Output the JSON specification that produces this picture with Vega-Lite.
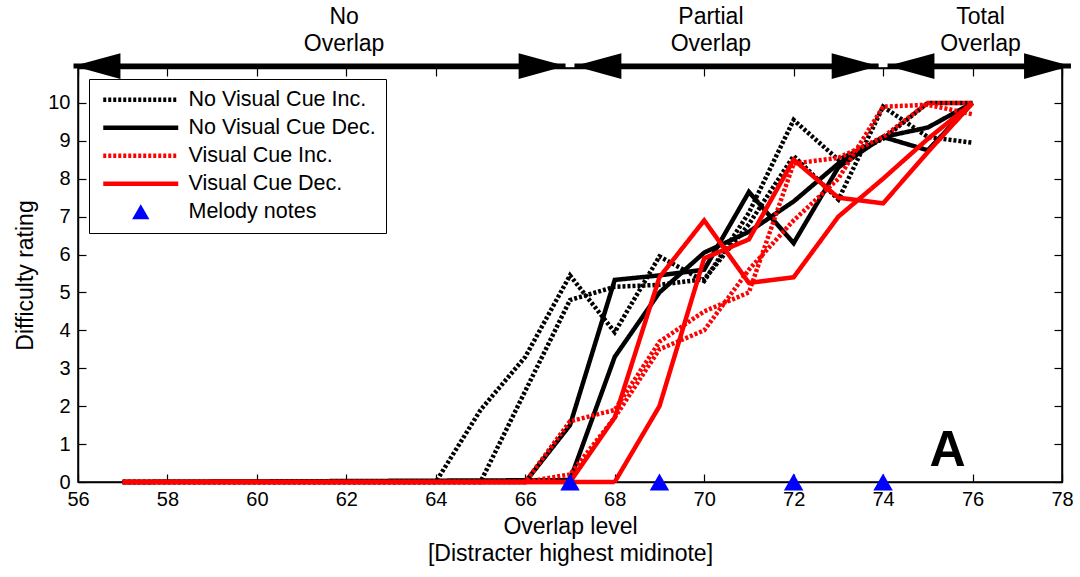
{
  "$schema": "https://vega.github.io/schema/vega-lite/v6.json",
  "width": 984,
  "height": 414,
  "autosize": "none",
  "padding": {"left": 78, "top": 68, "right": 18, "bottom": 95},
  "background": "white",
  "config": {
    "font": "Liberation Sans",
    "view": {"stroke": "black", "strokeWidth": 1.5},
    "axis": {"grid": false, "domainColor": "black", "tickColor": "black", "labelColor": "black", "titleColor": "black", "domainWidth": 1.5, "tickWidth": 1.2}
  },
  "datasets": {
    "lines": [
      {"s": "No Visual Cue Inc.", "r": "a", "x": 57, "y": 0},
      {"s": "No Visual Cue Inc.", "r": "a", "x": 64, "y": 0},
      {"s": "No Visual Cue Inc.", "r": "a", "x": 65, "y": 1.9},
      {"s": "No Visual Cue Inc.", "r": "a", "x": 66, "y": 3.3},
      {"s": "No Visual Cue Inc.", "r": "a", "x": 67, "y": 5.45},
      {"s": "No Visual Cue Inc.", "r": "a", "x": 68, "y": 3.95},
      {"s": "No Visual Cue Inc.", "r": "a", "x": 69, "y": 5.95},
      {"s": "No Visual Cue Inc.", "r": "a", "x": 70, "y": 5.3},
      {"s": "No Visual Cue Inc.", "r": "a", "x": 71, "y": 7.1},
      {"s": "No Visual Cue Inc.", "r": "a", "x": 72, "y": 9.55},
      {"s": "No Visual Cue Inc.", "r": "a", "x": 73, "y": 8.5},
      {"s": "No Visual Cue Inc.", "r": "a", "x": 74, "y": 9.05},
      {"s": "No Visual Cue Inc.", "r": "a", "x": 75, "y": 10},
      {"s": "No Visual Cue Inc.", "r": "a", "x": 76, "y": 10},
      {"s": "No Visual Cue Inc.", "r": "b", "x": 57, "y": 0},
      {"s": "No Visual Cue Inc.", "r": "b", "x": 65, "y": 0},
      {"s": "No Visual Cue Inc.", "r": "b", "x": 66, "y": 2.4},
      {"s": "No Visual Cue Inc.", "r": "b", "x": 67, "y": 4.8},
      {"s": "No Visual Cue Inc.", "r": "b", "x": 68, "y": 5.15},
      {"s": "No Visual Cue Inc.", "r": "b", "x": 69, "y": 5.2},
      {"s": "No Visual Cue Inc.", "r": "b", "x": 70, "y": 5.35},
      {"s": "No Visual Cue Inc.", "r": "b", "x": 71, "y": 6.8},
      {"s": "No Visual Cue Inc.", "r": "b", "x": 72, "y": 8.6},
      {"s": "No Visual Cue Inc.", "r": "b", "x": 73, "y": 7.45},
      {"s": "No Visual Cue Inc.", "r": "b", "x": 74, "y": 9.9},
      {"s": "No Visual Cue Inc.", "r": "b", "x": 75, "y": 9.1},
      {"s": "No Visual Cue Inc.", "r": "b", "x": 76, "y": 8.95},
      {"s": "No Visual Cue Dec.", "r": "a", "x": 57, "y": 0},
      {"s": "No Visual Cue Dec.", "r": "a", "x": 66, "y": 0},
      {"s": "No Visual Cue Dec.", "r": "a", "x": 67, "y": 1.5},
      {"s": "No Visual Cue Dec.", "r": "a", "x": 68, "y": 5.33},
      {"s": "No Visual Cue Dec.", "r": "a", "x": 69, "y": 5.45},
      {"s": "No Visual Cue Dec.", "r": "a", "x": 70, "y": 5.6},
      {"s": "No Visual Cue Dec.", "r": "a", "x": 71, "y": 7.65},
      {"s": "No Visual Cue Dec.", "r": "a", "x": 72, "y": 6.3},
      {"s": "No Visual Cue Dec.", "r": "a", "x": 73, "y": 8.3},
      {"s": "No Visual Cue Dec.", "r": "a", "x": 74, "y": 9.1},
      {"s": "No Visual Cue Dec.", "r": "a", "x": 75, "y": 8.75},
      {"s": "No Visual Cue Dec.", "r": "a", "x": 76, "y": 10},
      {"s": "No Visual Cue Dec.", "r": "b", "x": 57, "y": 0},
      {"s": "No Visual Cue Dec.", "r": "b", "x": 67, "y": 0.05},
      {"s": "No Visual Cue Dec.", "r": "b", "x": 68, "y": 3.3},
      {"s": "No Visual Cue Dec.", "r": "b", "x": 69, "y": 5.0},
      {"s": "No Visual Cue Dec.", "r": "b", "x": 70, "y": 6.05},
      {"s": "No Visual Cue Dec.", "r": "b", "x": 71, "y": 6.6},
      {"s": "No Visual Cue Dec.", "r": "b", "x": 72, "y": 7.4},
      {"s": "No Visual Cue Dec.", "r": "b", "x": 73, "y": 8.4},
      {"s": "No Visual Cue Dec.", "r": "b", "x": 74, "y": 9.1},
      {"s": "No Visual Cue Dec.", "r": "b", "x": 75, "y": 9.35},
      {"s": "No Visual Cue Dec.", "r": "b", "x": 76, "y": 10},
      {"s": "Visual Cue Inc.", "r": "a", "x": 57, "y": 0},
      {"s": "Visual Cue Inc.", "r": "a", "x": 66, "y": 0},
      {"s": "Visual Cue Inc.", "r": "a", "x": 67, "y": 1.6},
      {"s": "Visual Cue Inc.", "r": "a", "x": 68, "y": 1.9},
      {"s": "Visual Cue Inc.", "r": "a", "x": 69, "y": 3.7},
      {"s": "Visual Cue Inc.", "r": "a", "x": 70, "y": 4.5},
      {"s": "Visual Cue Inc.", "r": "a", "x": 71, "y": 5.0},
      {"s": "Visual Cue Inc.", "r": "a", "x": 72, "y": 8.4},
      {"s": "Visual Cue Inc.", "r": "a", "x": 73, "y": 8.55},
      {"s": "Visual Cue Inc.", "r": "a", "x": 74, "y": 9.1},
      {"s": "Visual Cue Inc.", "r": "a", "x": 75, "y": 10},
      {"s": "Visual Cue Inc.", "r": "a", "x": 76, "y": 10},
      {"s": "Visual Cue Inc.", "r": "b", "x": 57, "y": 0},
      {"s": "Visual Cue Inc.", "r": "b", "x": 66, "y": 0},
      {"s": "Visual Cue Inc.", "r": "b", "x": 67, "y": 0.2},
      {"s": "Visual Cue Inc.", "r": "b", "x": 68, "y": 1.7},
      {"s": "Visual Cue Inc.", "r": "b", "x": 69, "y": 3.5},
      {"s": "Visual Cue Inc.", "r": "b", "x": 70, "y": 4.0},
      {"s": "Visual Cue Inc.", "r": "b", "x": 71, "y": 5.6},
      {"s": "Visual Cue Inc.", "r": "b", "x": 72, "y": 6.9},
      {"s": "Visual Cue Inc.", "r": "b", "x": 73, "y": 8.0},
      {"s": "Visual Cue Inc.", "r": "b", "x": 74, "y": 9.9},
      {"s": "Visual Cue Inc.", "r": "b", "x": 75, "y": 9.95},
      {"s": "Visual Cue Inc.", "r": "b", "x": 76, "y": 9.7},
      {"s": "Visual Cue Dec.", "r": "a", "x": 57, "y": 0},
      {"s": "Visual Cue Dec.", "r": "a", "x": 67, "y": 0},
      {"s": "Visual Cue Dec.", "r": "a", "x": 68, "y": 1.7},
      {"s": "Visual Cue Dec.", "r": "a", "x": 69, "y": 5.4},
      {"s": "Visual Cue Dec.", "r": "a", "x": 70, "y": 6.9},
      {"s": "Visual Cue Dec.", "r": "a", "x": 71, "y": 5.25},
      {"s": "Visual Cue Dec.", "r": "a", "x": 72, "y": 5.4},
      {"s": "Visual Cue Dec.", "r": "a", "x": 73, "y": 7.0},
      {"s": "Visual Cue Dec.", "r": "a", "x": 74, "y": 8.0},
      {"s": "Visual Cue Dec.", "r": "a", "x": 75, "y": 9.05},
      {"s": "Visual Cue Dec.", "r": "a", "x": 76, "y": 10},
      {"s": "Visual Cue Dec.", "r": "b", "x": 57, "y": 0},
      {"s": "Visual Cue Dec.", "r": "b", "x": 68, "y": 0},
      {"s": "Visual Cue Dec.", "r": "b", "x": 69, "y": 2.0},
      {"s": "Visual Cue Dec.", "r": "b", "x": 70, "y": 5.9},
      {"s": "Visual Cue Dec.", "r": "b", "x": 71, "y": 6.4},
      {"s": "Visual Cue Dec.", "r": "b", "x": 72, "y": 8.5},
      {"s": "Visual Cue Dec.", "r": "b", "x": 73, "y": 7.5},
      {"s": "Visual Cue Dec.", "r": "b", "x": 74, "y": 7.35},
      {"s": "Visual Cue Dec.", "r": "b", "x": 75, "y": 8.7},
      {"s": "Visual Cue Dec.", "r": "b", "x": 76, "y": 10}
    ],
    "melody": [
      {"s": "Melody notes", "x": 67, "y": 0},
      {"s": "Melody notes", "x": 69, "y": 0},
      {"s": "Melody notes", "x": 72, "y": 0},
      {"s": "Melody notes", "x": 74, "y": 0}
    ],
    "shafts": [
      {"x1": 55.9, "x2": 66.9, "y": 10.97},
      {"x1": 67.1, "x2": 73.9, "y": 10.97},
      {"x1": 74.1, "x2": 78.2, "y": 10.97}
    ],
    "heads": [
      {"x": 55.9, "y": 10.97, "d": "left"},
      {"x": 66.9, "y": 10.97, "d": "right"},
      {"x": 67.1, "y": 10.97, "d": "left"},
      {"x": 73.9, "y": 10.97, "d": "right"},
      {"x": 74.1, "y": 10.97, "d": "left"},
      {"x": 78.2, "y": 10.97, "d": "right"}
    ],
    "regions": [
      {"x": 61.95, "y": 11.95, "label": "No\nOverlap"},
      {"x": 70.15, "y": 11.95, "label": "Partial\nOverlap"},
      {"x": 76.18, "y": 11.95, "label": "Total\nOverlap"}
    ],
    "panel": [
      {"x": 75.44, "y": 0.42, "label": "A"}
    ]
  },
  "resolve": {"axis": {"x": "independent", "y": "independent"}},
  "layer": [
    {
      "data": {"name": "lines"},
      "mark": {"type": "line", "strokeWidth": 4.5, "clip": false},
      "encoding": {
        "x": {"field": "x", "type": "quantitative", "scale": {"domain": [56, 78], "nice": false, "zero": false},
          "axis": {"orient": "bottom", "values": [56,58,60,62,64,66,68,70,72,74,76,78], "tickSize": -8, "labelFontSize": 20, "labelPadding": 15, "labelFlush": false,
            "title": ["Overlap level", "[Distracter highest midinote]"], "titleFontSize": 23, "titleFontWeight": "normal", "titlePadding": 6, "titleLineHeight": 27}},
        "y": {"field": "y", "type": "quantitative", "scale": {"domain": [0, 10.92], "nice": false, "zero": false},
          "axis": {"orient": "left", "values": [0,1,2,3,4,5,6,7,8,9,10], "tickSize": -8, "labelFontSize": 20, "labelPadding": 16,
            "title": "Difficulty rating", "titleFontSize": 23, "titleFontWeight": "normal", "titlePadding": 10}},
        "color": {"field": "s", "type": "nominal",
          "scale": {"domain": ["No Visual Cue Inc.", "No Visual Cue Dec.", "Visual Cue Inc.", "Visual Cue Dec.", "Melody notes"], "range": ["#000000", "#000000", "#ff0000", "#ff0000", "#0000ff"]},
          "legend": {"title": null, "orient": "top-left", "offset": 11, "padding": 10, "strokeColor": "black", "fillColor": "white",
            "labelFontSize": 21.5, "labelColor": "black", "labelLimit": 400, "symbolSize": 5625, "symbolStrokeWidth": 4, "rowPadding": 5, "labelOffset": 37, "symbolOffset": 31,
            "encode": {"symbols": {"update": {
              "shape": {"signal": "datum.value === 'Melody notes' ? 'triangle-up' : 'stroke'"},
              "size": {"signal": "datum.value === 'Melody notes' ? 300 : 5625"},
              "fill": {"signal": "datum.value === 'Melody notes' ? '#0000ff' : 'transparent'"},
              "strokeWidth": {"signal": "datum.value === 'Melody notes' ? 0 : 4.5"},
              "strokeDash": {"signal": "(datum.value === 'No Visual Cue Inc.' || datum.value === 'Visual Cue Inc.') ? [3,2] : [1,0]"},
              "opacity": {"value": 1}
            }}}}},
        "strokeDash": {"field": "s", "type": "nominal",
          "scale": {"domain": ["No Visual Cue Inc.", "No Visual Cue Dec.", "Visual Cue Inc.", "Visual Cue Dec."], "range": [[3,2],[1,0],[3,2],[1,0]]},
          "legend": null},
        "detail": {"field": "r", "type": "nominal"}
      }
    },
    {
      "data": {"name": "melody"},
      "mark": {"type": "point", "shape": "triangle-up", "filled": true, "size": 380, "opacity": 1, "clip": false},
      "encoding": {
        "x": {"field": "x", "type": "quantitative", "axis": {"orient": "top", "values": [56,58,60,62,64,66,68,70,72,74,76,78], "tickSize": -8, "labels": false, "title": null}},
        "y": {"field": "y", "type": "quantitative", "axis": {"orient": "right", "values": [0,1,2,3,4,5,6,7,8,9,10], "tickSize": -8, "labels": false, "title": null}},
        "color": {"field": "s", "type": "nominal"}
      }
    },
    {
      "data": {"name": "shafts"},
      "mark": {"type": "rule", "strokeWidth": 5, "color": "black"},
      "encoding": {
        "x": {"field": "x1", "type": "quantitative", "axis": null},
        "x2": {"field": "x2"},
        "y": {"field": "y", "type": "quantitative", "axis": null}
      }
    },
    {
      "data": {"name": "heads"},
      "mark": {"type": "point", "filled": true, "size": 2200, "opacity": 1, "color": "black"},
      "encoding": {
        "x": {"field": "x", "type": "quantitative", "axis": null},
        "y": {"field": "y", "type": "quantitative", "axis": null},
        "shape": {"field": "d", "type": "nominal", "scale": {"domain": ["left", "right"], "range": ["M0,0L2,-0.55L2,0.55Z", "M0,0L-2,-0.55L-2,0.55Z"]}, "legend": null}
      }
    },
    {
      "data": {"name": "regions"},
      "mark": {"type": "text", "fontSize": 23, "lineBreak": "\n", "lineHeight": 27, "baseline": "bottom", "align": "center", "color": "black"},
      "encoding": {
        "x": {"field": "x", "type": "quantitative", "axis": null},
        "y": {"field": "y", "type": "quantitative", "axis": null},
        "text": {"field": "label"}
      }
    },
    {
      "data": {"name": "panel"},
      "mark": {"type": "text", "fontSize": 50, "fontWeight": "bold", "baseline": "alphabetic", "align": "center", "color": "black"},
      "encoding": {
        "x": {"field": "x", "type": "quantitative", "axis": null},
        "y": {"field": "y", "type": "quantitative", "axis": null},
        "text": {"field": "label"}
      }
    }
  ]
}
